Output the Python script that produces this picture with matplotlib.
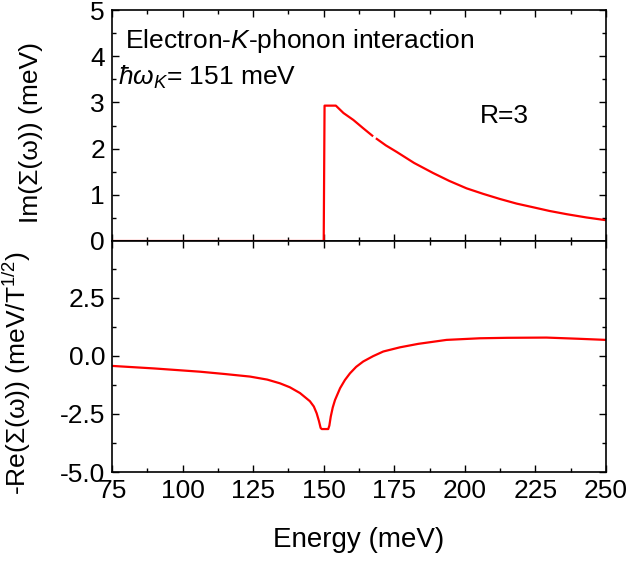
import numpy as np
import matplotlib
matplotlib.use("Agg")
import matplotlib.pyplot as plt
from matplotlib.ticker import MultipleLocator, FormatStrFormatter

plt.rcParams['font.family'] = ['Liberation Sans', 'DejaVu Sans']
plt.rcParams['mathtext.fontset'] = 'custom'
plt.rcParams['mathtext.rm'] = 'Liberation Sans'
plt.rcParams['mathtext.it'] = 'Liberation Sans:italic'
plt.rcParams['mathtext.bf'] = 'Liberation Sans:bold'

# Top panel: Im(Sigma) (two segments, small gap near 168 meV)
im_x1 = [75, 150.0, 150.3, 154.3, 157.0, 160.5, 164.0, 167.2]
im_y1 = [0, 0, 2.93, 2.93, 2.77, 2.62, 2.44, 2.28]
im_x2 = [168.8, 172.0, 175.8, 182.0, 188.8, 194.5, 200.6, 206.5, 212.4, 218.3, 224.2,
         230.0, 236.1, 243.0, 250.0]
im_y2 = [2.21, 2.07, 1.93, 1.69, 1.47, 1.30, 1.14, 1.02, 0.91, 0.81, 0.73,
         0.65, 0.58, 0.51, 0.45]

# Bottom panel: -Re(Sigma)
re_x = [75, 90, 106.2, 115, 123.9, 130, 134.5, 138, 141.6, 145.1, 146.5, 147.5, 148.3,
        148.9, 149.3, 151.6, 152.0, 152.5, 153.2, 154.0, 155.8, 157.5, 159.3, 161.5,
        164.0, 167.5, 171.1, 177.0, 183.5, 193.5, 205.3, 215.0, 228.9, 240.0, 250.0]
re_y = [-0.43, -0.54, -0.68, -0.78, -0.89, -1.02, -1.18, -1.35, -1.60, -1.95, -2.18,
        -2.47, -2.80, -3.10, -3.15, -3.15, -3.00, -2.61, -2.22, -1.90, -1.39, -1.04,
        -0.75, -0.47, -0.24, -0.01, 0.19, 0.37, 0.52, 0.69, 0.76, 0.78, 0.79, 0.74, 0.69]

x_ticks = [75, 100, 125, 150, 175, 200, 225, 250]

W, H = 631, 565
fig = plt.figure(figsize=(W / 100, H / 100), dpi=100)
L, R = 112, 606
ax1 = fig.add_axes([L / W, (H - 241) / H, (R - L) / W, 231 / H])
ax2 = fig.add_axes([L / W, (H - 472) / H, (R - L) / W, 231 / H])

red = '#ff0000'
ax1.plot(im_x1, im_y1, color=red, lw=1.6)
ax1.plot(im_x2, im_y2, color=red, lw=1.6)
ax2.plot(re_x, re_y, color=red, lw=1.6)

FS = 19
for ax in (ax1, ax2):
    ax.set_xlim(75, 250)
    ax.set_xticks(x_ticks)
    ax.xaxis.set_minor_locator(MultipleLocator(12.5))
    ax.tick_params(which='both', direction='in', top=True, right=True, labelsize=FS)
    ax.tick_params(which='major', length=5, width=1, pad=5)
    ax.tick_params(which='minor', length=3, width=1)
    for s in ax.spines.values():
        s.set_linewidth(1.2)

ax1.set_ylim(0, 5)
ax1.yaxis.set_major_locator(MultipleLocator(1))
ax1.yaxis.set_minor_locator(MultipleLocator(0.5))
ax1.tick_params(labelbottom=False)
ax1.set_ylabel('Im(Σ(ω)) (meV)', fontsize=FS)
ax1.yaxis.set_label_coords(-0.14, 0.47)

ax2.set_ylim(-5, 4.95)
ax2.set_yticks([-5.0, -2.5, 0.0, 2.5])
ax2.yaxis.set_minor_locator(MultipleLocator(1.25))
ax2.yaxis.set_major_formatter(FormatStrFormatter('%.1f'))
ax2.set_ylabel('-Re(Σ(ω)) (meV/T$^{1/2}$)', fontsize=FS)
ax2.yaxis.set_label_coords(-0.16, 0.43)
ax2.set_xlabel('Energy (meV)', fontsize=20)
ax2.xaxis.set_label_coords(0.5, -(540 - 472) / 231)
ax2.xaxis.label.set_va('center')

ax1.text(125 / W, 1 - 48 / H, 'Electron-$K$-phonon interaction', transform=fig.transFigure,
         fontsize=FS, va='baseline', ha='left')
ax1.text(118 / W, 1 - 85 / H, r'$\hbar\omega_K$= 151 meV', transform=fig.transFigure,
         fontsize=FS, va='baseline', ha='left')
ax1.text(480 / W, 1 - 123 / H, 'R=3', transform=fig.transFigure, fontsize=FS,
         va='baseline', ha='left')

fig.savefig('out.png', dpi=100)
